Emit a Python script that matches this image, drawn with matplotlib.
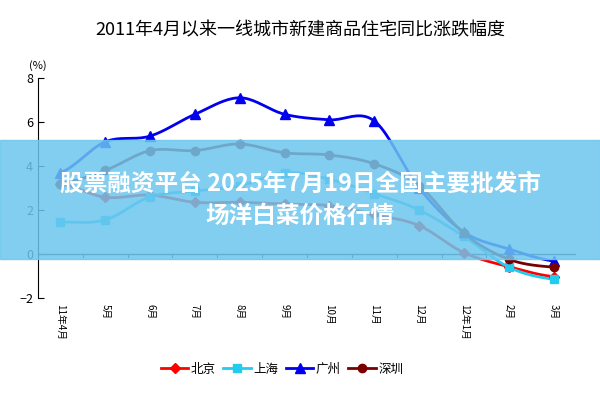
import numpy as np
import matplotlib
matplotlib.use("Agg")
import matplotlib.pyplot as plt

plt.rcParams["font.family"] = ["Noto Sans CJK SC", "DejaVu Sans"]

months = ["11年4月", "5月", "6月", "7月", "8月", "9月", "10月", "11月", "12月", "12年1月", "2月", "3月"]
beijing = [3.2, 2.58, 2.68, 2.35, 2.35, 2.27, 2.2, 1.8, 1.29, 0.06, -0.58, -1.03]
shanghai = [1.45, 1.55, 2.6, 2.86, 3.1, 3.7, 3.4, 2.75, 2.0, 0.8, -0.6, -1.15]
guangzhou = [3.7, 5.1, 5.36, 6.35, 7.1, 6.35, 6.1, 6.05, 3.0, 1.0, 0.23, -0.32]
shenzhen = [3.2, 3.8, 4.7, 4.7, 5.0, 4.6, 4.5, 4.1, 3.1, 0.94, -0.24, -0.6]

def smooth(y, n=20):
    y = np.asarray(y, float)
    p = np.concatenate([[y[0]], y, [y[-1]]])
    xs, ys = [], []
    for i in range(len(y) - 1):
        p0, p1, p2, p3 = p[i], p[i+1], p[i+2], p[i+3]
        t = np.linspace(0, 1, n, endpoint=False)
        v = 0.5*((2*p1) + (-p0+p2)*t + (2*p0-5*p1+4*p2-p3)*t**2 + (-p0+3*p1-3*p2+p3)*t**3)
        xs.append(i + t); ys.append(v)
    xs.append([len(y)-1]); ys.append([y[-1]])
    return np.concatenate(xs), np.concatenate(ys)

fig = plt.figure(figsize=(6, 4), dpi=100)
ax = fig.add_axes([38/600, 1-298/400, 538/600, 220/400])
x = np.arange(len(months))
series = [("北京", beijing, "#ff0000", "D", 5),
          ("上海", shanghai, "#22ccee", "s", 6),
          ("广州", guangzhou, "#0000ee", "^", 7),
          ("深圳", shenzhen, "#7a0000", "o", 6)]
handles = []
for name, vals, c, m, ms in series:
    sx, sy = smooth(vals)
    ax.plot(sx, sy, color=c, lw=2, zorder=3)
    ax.plot(x, vals, ls="none", marker=m, color=c, ms=ms, zorder=4)
    h, = ax.plot([], [], color=c, lw=2, marker=m, ms=ms, label=name)
    handles.append(h)

ax.set_xlim(-0.5, 11.5)
ax.set_ylim(-2, 8)
ax.set_yticks([-2, 0, 2, 4, 6, 8])
ax.tick_params(axis="y", labelsize=9, direction="in", length=4)
for s in ["top", "right", "bottom"]:
    ax.spines[s].set_visible(False)
ax.axhline(0, color="#333333", lw=1)
ax.set_xticks([])
for i in range(1, 12):
    ax.plot([i-0.5, i-0.5], [0, -0.15], color="#333333", lw=0.8)
for i, lab in enumerate(months):
    ax.text(i, -2.25, lab, rotation=270, ha="center", va="top", fontsize=7)
ax.text(-0.5, 8.3, "(%)", fontsize=8, ha="center", va="bottom")

fig.text(0.5, 1-30/400, "2011年4月以来一线城市新建商品住宅同比涨跌幅度", ha="center", va="center", fontsize=13)
fig.legend(handles=handles, loc="center", bbox_to_anchor=(0.47, 1-369/400), ncol=4, frameon=False,
           fontsize=9, handlelength=2.2, columnspacing=0.6, handletextpad=0.2)

fig.patches.append(plt.Rectangle((0, 1-259/400), 1, 119/400, transform=fig.transFigure,
                                 color="#6cc6ee", alpha=0.85, zorder=10))
fig.text(0.5, 1-200/400, "股票融资平台 2025年7月19日全国主要批发市\n场洋白菜价格行情", ha="center", va="center",
         fontsize=17, color="white", fontweight="bold", zorder=11, linespacing=1.4)

fig.savefig("out.png", dpi=100)
